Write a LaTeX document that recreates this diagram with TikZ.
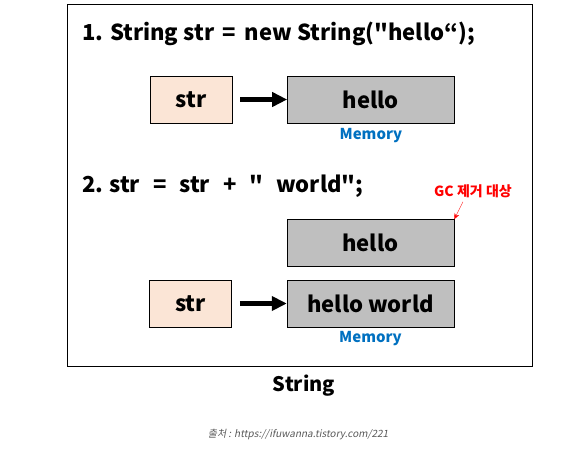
\documentclass[tikz,border=0pt]{standalone}
\usepackage{fontspec}
\setmainfont{Noto Sans CJK KR}[Ligatures=TeXOff]
\newfontfamily\creditfont[FakeSlant=0.2]{Noto Sans CJK KR}
\usetikzlibrary{positioning, arrows.meta}
\definecolor{refpeach}{HTML}{FBE5D6}
\definecolor{heapgray}{HTML}{BFBFBF}
\definecolor{memblue}{HTML}{0070C0}
\tikzset{%
	ref/.style={draw, rectangle, minimum width=82pt, minimum height=47pt, inner sep=0pt,%
		fill=refpeach, font=\bfseries\fontsize{22}{26}\selectfont},
	obj/.style={draw, rectangle, minimum width=167pt, minimum height=47pt, inner sep=0pt,%
		fill=heapgray, font=\bfseries\fontsize{22}{26}\selectfont},
	pointer/.style={-{Triangle[length=15pt, width=14pt]}, line width=4.5pt},
	code/.style={anchor=base west, inner sep=0pt, font=\bfseries\fontsize{22}{26}\selectfont},
	memlabel/.style={inner sep=0pt, text=memblue, font=\bfseries\fontsize{15}{18}\selectfont},
	gclabel/.style={inner sep=1pt, text=red, font=\bfseries\fontsize{14}{17}\selectfont},
	gcarrow/.style={-{Stealth[length=6pt, width=5pt]}, red, thin}
}

\begin{document}
\begin{tikzpicture}[x=1pt, y=-1pt]
	\useasboundingbox (0,0) rectangle (574,453);
	\draw[line width=1pt] (67,4) rectangle (532,366);

	% 1. new String
	\node[code] (line1) at (82,40) {1. String str \,=\, new String("hello“);};
	\node[ref] (str1) at (191,99.5) {str};
	\node[obj, right=55pt of str1] (hello1) {hello};
	\node[memlabel, below=5pt of hello1] (mem1) {Memory};
	\draw[pointer] ([xshift=8pt]str1.east) -- (hello1);

	% 2. concatenation
	\node[code] (line2) at (82,192) {\spaceskip=13pt 2.\hspace{6pt}str = str + " world";};
	\node[obj] (hello2) at (370.5,243) {hello};
	\node[obj] (hellow) at (370.5,303.5) {hello world};
	\node[ref, left=55pt of hellow] (str2) {str};
	\node[memlabel, below=4pt of hellow] (mem2) {Memory};
	\draw[pointer] ([xshift=8pt]str2.east) -- (hellow);

	\node[gclabel] (gc) at (473,191) {GC 제거 대상};
	\draw[gcarrow] ([xshift=-10pt, yshift=-3pt]gc.south) -- (hello2.north east);

	\node[font=\bfseries\fontsize{20}{24}\selectfont] (title) at (304,386) {String};
	\node[text=black!65, font=\creditfont\fontsize{10}{12}\selectfont] (credit) at (298,435) {출처 : https://ifuwanna.tistory.com/221};
\end{tikzpicture}
\end{document}
